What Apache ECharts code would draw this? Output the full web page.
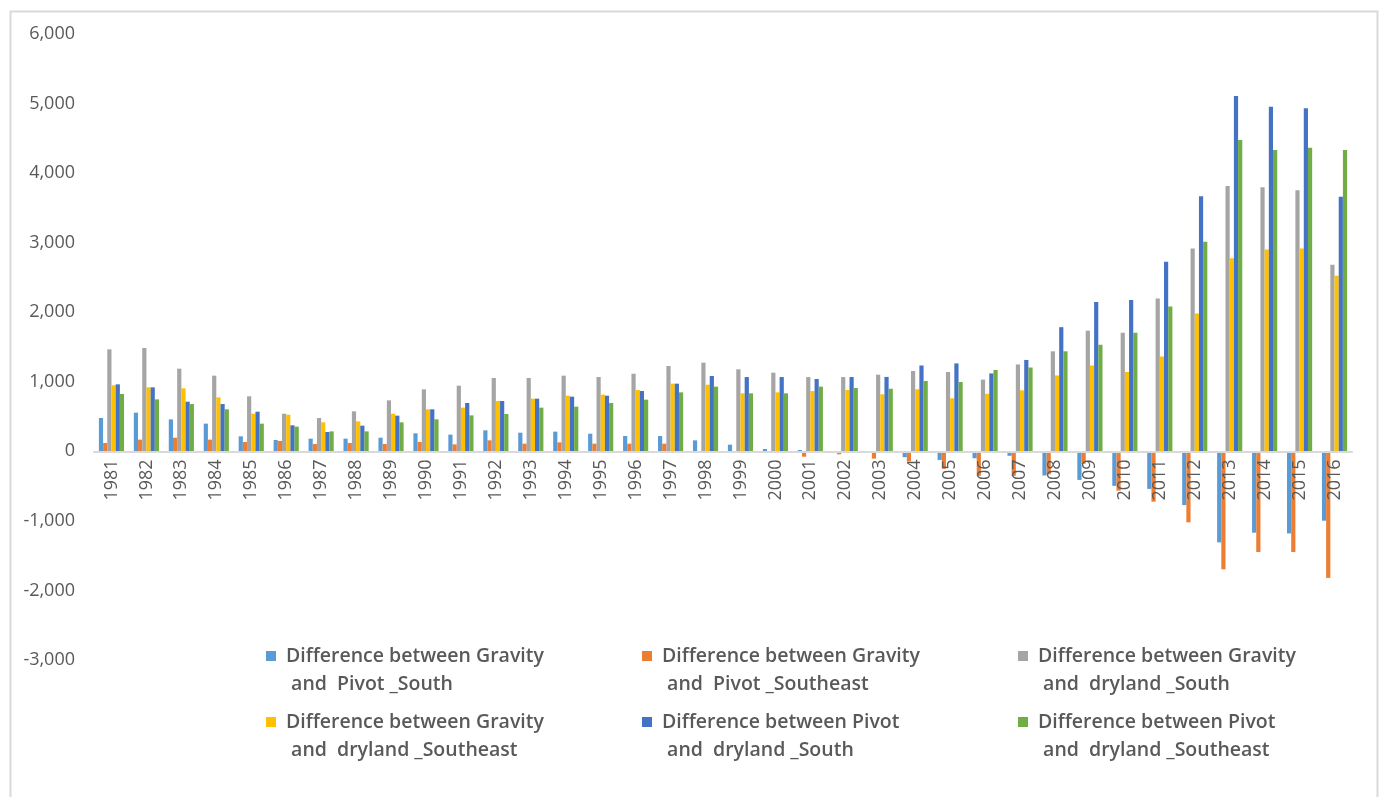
<!DOCTYPE html>
<html>
<head>
<meta charset="utf-8">
<script src="https://cdn.jsdelivr.net/npm/echarts@6/dist/echarts.min.js"></script>
<style>
  html, body { margin: 0; padding: 0; background: #fff; }
  #chart { width: 1380px; height: 797px; }
</style>
</head>
<body>
<div id="chart"></div>
<script>
// Years on the category axis
const years = ['1981','1982','1983','1984','1985','1986','1987','1988','1989','1990',
  '1991','1992','1993','1994','1995','1996','1997','1998','1999','2000',
  '2001','2002','2003','2004','2005','2006','2007','2008','2009','2010',
  '2011','2012','2013','2014','2015','2016'];

// Value axis ticks
const yTicks = { min: -3000, max: 6000, step: 1000 };

const seriesNames = [
  'Difference between Gravity and  Pivot _South',
  'Difference between Gravity and  Pivot _Southeast',
  'Difference between Gravity and  dryland _South',
  'Difference between Gravity and  dryland _Southeast',
  'Difference between Pivot and  dryland _South',
  'Difference between Pivot and  dryland _Southeast'
];

const gravityPivotSouth = [479, 556, 460, 398, 216, 163, 182, 182, 196, 259,
  240, 302, 268, 283, 254, 220, 220, 158, 96, 34,
  19, -5, -8, -84, -124, -99, -64, -347, -411, -496,
  -540, -773, -1309, -1170, -1180, -997];

const gravityPivotSoutheast = [120, 168, 196, 168, 134, 149, 105, 120, 105, 134,
  100, 158, 110, 129, 110, 110, 110, 0, 0, 0,
  -77, -43, -105, -144, -253, -352, -352, -330, -178, -565,
  -724, -1021, -1696, -1448, -1448, -1820];

const gravityDrylandSouth = [1466, 1485, 1188, 1088, 791, 541, 479, 575, 733, 891,
  944, 1054, 1054, 1088, 1068, 1116, 1227, 1275, 1179, 1131,
  1068, 1068, 1102, 1155, 1140, 1031, 1249, 1438, 1735, 1705,
  2196, 2915, 3813, 3798, 3753, 2682];

const gravityDrylandSoutheast = [949, 920, 906, 776, 541, 527, 417, 431, 541, 604,
  628, 724, 757, 800, 815, 882, 973, 958, 834, 848,
  867, 882, 820, 892, 763, 828, 877, 1091, 1234, 1140,
  1363, 1983, 2776, 2900, 2915, 2524];

const pivotDrylandSouth = [963, 920, 714, 680, 570, 374, 278, 369, 513, 604,
  695, 724, 757, 786, 800, 867, 973, 1083, 1068, 1068,
  1040, 1068, 1070, 1234, 1264, 1120, 1314, 1785, 2147, 2176,
  2727, 3669, 5107, 4953, 4933, 3659];

const pivotDrylandSoutheast = [824, 747, 680, 604, 398, 355, 287, 287, 417, 460,
  517, 537, 628, 642, 695, 743, 848, 930, 834, 834,
  930, 910, 900, 1011, 997, 1170, 1205, 1438, 1532, 1705,
  2082, 3014, 4477, 4333, 4363, 4333];

const seriesValues = [gravityPivotSouth, gravityPivotSoutheast, gravityDrylandSouth,
  gravityDrylandSoutheast, pivotDrylandSouth, pivotDrylandSoutheast];

const colors = ['#5B9BD5', '#ED7D31', '#A5A5A5', '#FFC000', '#4472C4', '#70AD47'];

const textColor = '#595959';
const font = '"Open Sans", "Noto Sans", sans-serif';

// Plot box in pixels; the year labels hang just under the zero line
const plot = { left: 94, right: 28, top: 34, bottom: 137, height: 797 - 34 - 137 };
const zeroOffset = plot.height * (0 - yTicks.min) / (yTicks.max - yTicks.min);

// Square marker sitting on the first line of a two-line legend label
const legendIcon = 'path://M0 0H10V10H0Z M14.99 37.99H15V38H14.99Z';
const legendCols = [266, 642, 1018];
const legendRows = [642, 708];

const legends = seriesNames.map((name, i) => ({
  data: [name],
  left: legendCols[i % 3],
  top: legendRows[Math.floor(i / 3)],
  padding: 0,
  icon: legendIcon,
  itemWidth: 15,
  itemHeight: 38,
  selectedMode: false,
  formatter: n => n.replace(' and', '\n and'),
  textStyle: {
    color: textColor,
    fontFamily: font,
    fontSize: 19.5,
    fontWeight: 600,
    lineHeight: 28
  }
}));

const chart = echarts.init(document.getElementById('chart'), null, { renderer: 'canvas' });

chart.setOption({
  animation: false,
  backgroundColor: '#fff',
  color: colors,
  graphic: [{
    type: 'rect',
    left: 8, top: 9,
    shape: { width: 1367, height: 800 },
    style: { fill: 'none', stroke: '#D9D9D9', lineWidth: 2 },
    silent: true
  }],
  legend: legends,
  grid: { left: plot.left, right: plot.right, top: plot.top, bottom: plot.bottom, containLabel: false },
  xAxis: {
    type: 'category',
    data: years,
    z: 10,
    axisLine: { onZero: true, lineStyle: { color: '#D9D9D9', width: 2 } },
    axisTick: { show: false },
    axisLabel: {
      interval: 0,
      rotate: 90,
      margin: 8 - zeroOffset,
      color: textColor,
      fontFamily: font,
      fontSize: 18
    }
  },
  yAxis: {
    type: 'value',
    min: yTicks.min,
    max: yTicks.max,
    interval: yTicks.step,
    axisLine: { show: false },
    axisTick: { show: false },
    splitLine: { show: false },
    axisLabel: {
      margin: 19,
      color: textColor,
      fontFamily: font,
      fontSize: 18,
      formatter: v => v.toLocaleString('en-US')
    }
  },
  series: seriesNames.map((name, i) => ({
    name: name,
    type: 'bar',
    data: seriesValues[i],
    barGap: '0%',
    barCategoryGap: '28%',
    itemStyle: { color: colors[i] }
  }))
});
</script>
</body>
</html>
